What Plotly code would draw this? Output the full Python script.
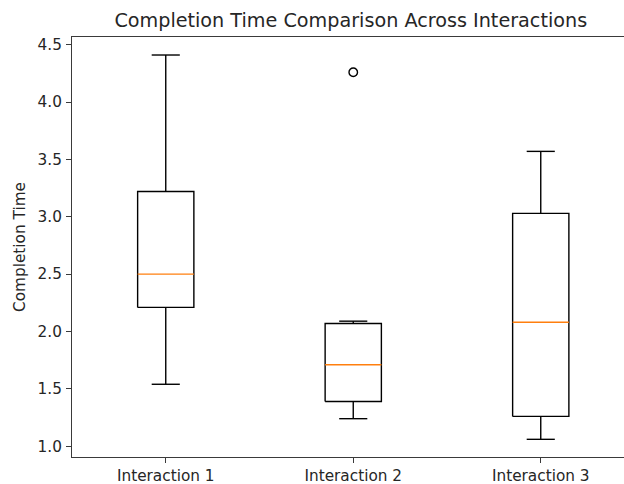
import plotly.graph_objects as go

# Box statistics per interaction
categories = ["Interaction 1", "Interaction 2", "Interaction 3"]
positions = [1, 2, 3]
lower_whisker = [1.54, 1.24, 1.06]
q1 = [2.21, 1.39, 1.26]
median = [2.50, 1.71, 2.08]
q3 = [3.22, 2.07, 3.03]
upper_whisker = [4.41, 2.09, 3.57]
outliers = [[], [4.26], []]

y_ticks = [1.0, 1.5, 2.0, 2.5, 3.0, 3.5, 4.0, 4.5]

box_half = 0.15
cap_half = 0.075
line_color = "#000000"
median_color = "#ff7f0e"
font_family = "DejaVu Sans"
text_color = "#262626"

fig = go.Figure()

for i, x in enumerate(positions):
    # box outline
    fig.add_trace(go.Scatter(
        x=[x - box_half, x + box_half, x + box_half, x - box_half, x - box_half],
        y=[q1[i], q1[i], q3[i], q3[i], q1[i]],
        mode="lines", line=dict(color=line_color, width=1.4),
        hoverinfo="skip", showlegend=False))
    # whiskers and caps
    fig.add_trace(go.Scatter(
        x=[x, x, None, x, x, None,
           x - cap_half, x + cap_half, None, x - cap_half, x + cap_half],
        y=[q1[i], lower_whisker[i], None, q3[i], upper_whisker[i], None,
           lower_whisker[i], lower_whisker[i], None, upper_whisker[i], upper_whisker[i]],
        mode="lines", line=dict(color=line_color, width=1.4),
        hoverinfo="skip", showlegend=False))
    # median
    fig.add_trace(go.Scatter(
        x=[x - box_half, x + box_half], y=[median[i], median[i]],
        mode="lines", line=dict(color=median_color, width=1.4),
        hoverinfo="skip", showlegend=False))
    # fliers
    if outliers[i]:
        fig.add_trace(go.Scatter(
            x=[x] * len(outliers[i]), y=outliers[i], mode="markers",
            marker=dict(symbol="circle-open", size=8.5, color=line_color,
                        line=dict(width=1.4, color=line_color)),
            hoverinfo="skip", showlegend=False))

axis_line = "#3a3a3a"

fig.update_layout(
    width=624, height=484,
    margin=dict(l=72, r=0, t=37, b=27),
    paper_bgcolor="white", plot_bgcolor="white",
    font=dict(family=font_family, size=15.3, color=text_color),
    title=dict(text="Completion Time Comparison Across Interactions",
               x=0.505, xref="paper", xanchor="center",
               y=1 - 20 / 484, yref="container", yanchor="middle",
               font=dict(size=19.2, color=text_color)),
    xaxis=dict(range=[0.5, 3.444], tickvals=positions, ticktext=categories,
               tickfont=dict(size=15.3),
               showgrid=False, zeroline=False, showline=True, mirror=True,
               linecolor=axis_line, linewidth=1, ticks="outside", ticklen=5,
               tickwidth=1, tickcolor=axis_line),
    yaxis=dict(range=[0.906, 4.567], tickvals=y_ticks, tickformat=".1f",
               tickfont=dict(size=15.3), ticklabelstandoff=1,
               title=dict(text="Completion Time", standoff=8,
                          font=dict(size=15.3, color=text_color)),
               showgrid=False, zeroline=False, showline=True, mirror=False,
               linecolor=axis_line, linewidth=1, ticks="outside", ticklen=5,
               tickwidth=1, tickcolor=axis_line),
)

fig.write_html("out.html")
